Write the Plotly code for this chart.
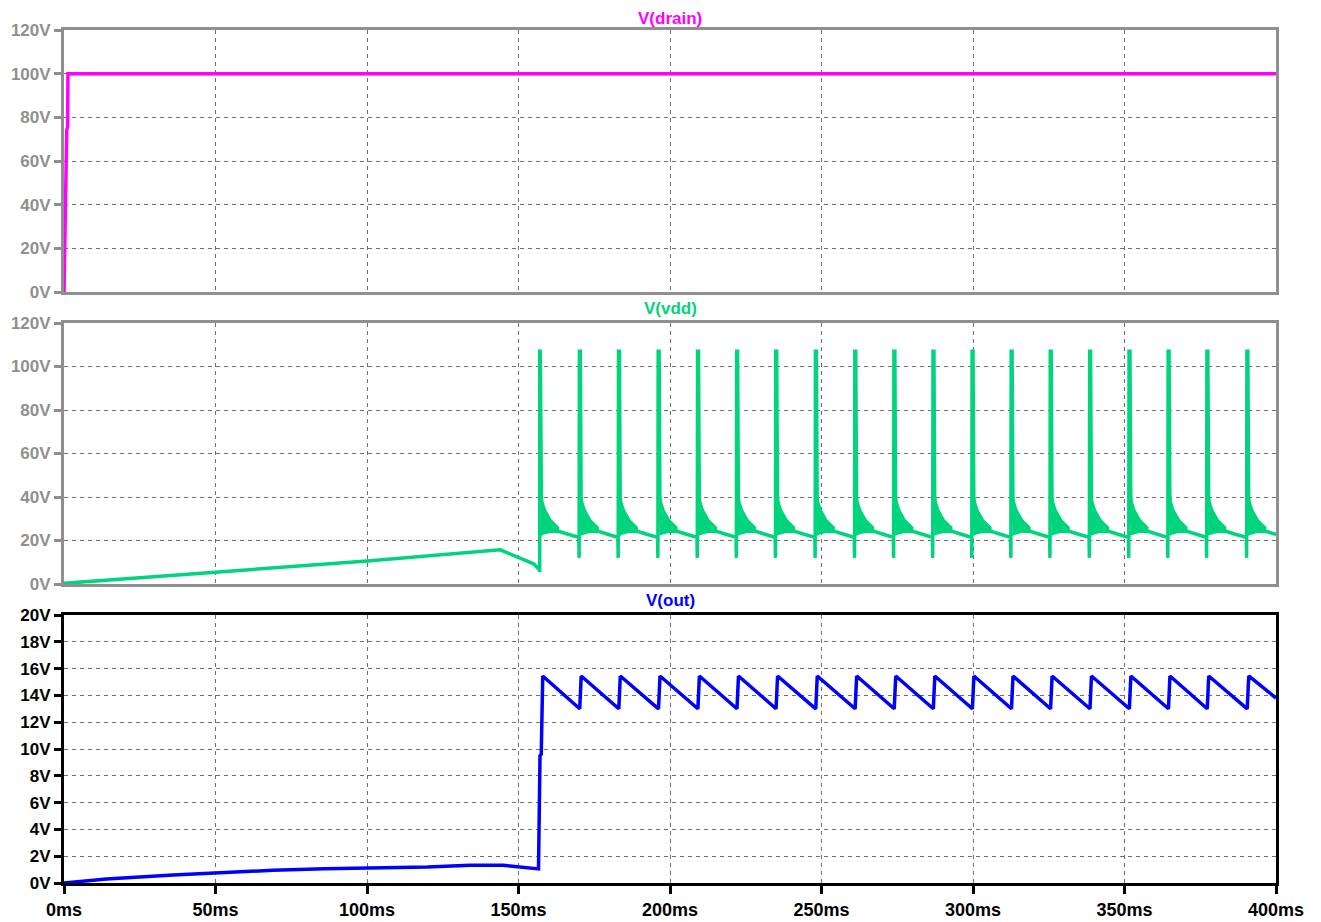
import plotly.graph_objects as go

# ---------------- data ----------------
# V(drain): fast rise to 100 V
drain_t = [0, 0.2, 0.5, 0.9, 1.2, 1.3, 400]
drain_v = [0, 24, 26, 74, 76, 100, 100]

# V(vdd): start-up ramp before switching begins
vdd_ramp_t = [0, 50, 100, 144, 150.5, 155, 156.9]
vdd_ramp_v = [0.3, 5.5, 10.6, 15.7, 11.8, 9.3, 6.5]

# switching events (ms)
spike_t = [157.1, 170.2, 183.1, 196.2, 209.2, 222.1, 235.0, 248.1, 261.1,
           274.0, 286.9, 299.8, 312.7, 325.6, 338.6, 351.6, 364.5, 377.3, 390.5]

# V(vdd) shape around each event (offset ms from the event, volts)
spike_off = [-0.3, -0.2, -0.1, 0.2, 0.35]
spike_val = [21.5, 12.0, 107.0, 107.0, 42.0]
first_spike_off = [-0.1, -0.1, 0.05, 0.2, 0.35]
first_spike_val = [5.5, 107.0, 107.0, 87.0, 42.0]
decay_off = [0.5, 1.5, 3.5, 6.0, 9.0, 12.5]
decay_val = [29.0, 27.5, 26.0, 24.3, 23.0, 21.6]
vdd_end = 23.0
# ringing band envelopes (offset ms, volts)
band_off = [0.3, 0.8, 1.7, 3.5, 6.0]
band_hi = [43.0, 38.0, 34.0, 29.5, 26.0]
band_lo = [22.5, 23.0, 23.5, 24.0, 23.8]

# V(out)
out_ramp_t = [0, 14, 36, 50, 69, 86, 100, 120, 134, 145, 148, 156.6]
out_ramp_v = [0, 0.3, 0.6, 0.77, 0.95, 1.07, 1.13, 1.2, 1.33, 1.33, 1.25, 1.05]
out_first_t = [157.1, 157.5, 158.0]
out_first_v = [9.5, 9.6, 15.45]
out_peak = 15.45
out_peak_off = 0.5
out_low = 13.0
out_end = 13.8

y_ticks_hv = [0, 20, 40, 60, 80, 100, 120]
y_ticks_out = [0, 2, 4, 6, 8, 10, 12, 14, 16, 18, 20]
x_ticks = [0, 50, 100, 150, 200, 250, 300, 350, 400]

# ---------------- build series ----------------
vdd_t = list(vdd_ramp_t)
vdd_v = list(vdd_ramp_v)
bx, by = [], []
for k, ts in enumerate(spike_t):
    nxt = spike_t[k + 1] if k + 1 < len(spike_t) else 400.0
    if k == 0:
        offs, vals = first_spike_off, first_spike_val
    else:
        offs, vals = spike_off, spike_val
    for o, v in zip(offs, vals):
        vdd_t.append(ts + o)
        vdd_v.append(v)
    for o, v in zip(decay_off, decay_val):
        if ts + o < nxt - 0.35:
            vdd_t.append(ts + o)
            vdd_v.append(v)
    # band polygon
    for o, v in zip(band_off, band_hi):
        bx.append(ts + o)
        by.append(v)
    for o, v in zip(reversed(band_off), reversed(band_lo)):
        bx.append(ts + o)
        by.append(v)
    bx.append(None)
    by.append(None)
vdd_t.append(400)
vdd_v.append(vdd_end)

out_t = list(out_ramp_t) + list(out_first_t)
out_v = list(out_ramp_v) + list(out_first_v)
for k, ts in enumerate(spike_t):
    if k > 0:
        out_t += [ts, ts + out_peak_off]
        out_v += [out_low, out_peak]
out_t.append(400)
out_v.append(out_end)

# ---------------- figure ----------------
MAG = "#ff00ff"
GRN = "#00d47c"
BLU = "#0000ff"
GRAY = "#8f8f8f"
FONT = "Liberation Sans, Arial, sans-serif"

fig = go.Figure()
fig.add_trace(go.Scatter(x=drain_t, y=drain_v, mode="lines",
                         line=dict(color=MAG, width=3.5), xaxis="x", yaxis="y",
                         hoverinfo="skip"))
fig.add_trace(go.Scatter(x=bx, y=by, mode="lines", fill="toself",
                         fillcolor=GRN, line=dict(color=GRN, width=2),
                         xaxis="x2", yaxis="y2", hoverinfo="skip"))
fig.add_trace(go.Scatter(x=vdd_t, y=vdd_v, mode="lines",
                         line=dict(color=GRN, width=3.5), xaxis="x2", yaxis="y2",
                         hoverinfo="skip"))
fig.add_trace(go.Scatter(x=out_t, y=out_v, mode="lines",
                         line=dict(color=BLU, width=3.5), xaxis="x3", yaxis="y3",
                         hoverinfo="skip"))

# page body has an 8px margin; figure occupies (8,8)-(1321,922)
OFF = 8
H_PLOT = 853.0
def dom(top_px, bot_px):
    return [(883 - bot_px) / H_PLOT, (883 - top_px) / H_PLOT]

grid = dict(showgrid=True, gridcolor="#707070", gridwidth=1, griddash="4px,4px")

def xax(color, show_labels, anchor):
    return dict(range=[0, 400], tickvals=x_ticks, ticktext=[f"{v}ms" for v in x_ticks],
                showticklabels=show_labels, ticks="outside" if show_labels else "",
                ticklen=8, tickwidth=3, tickcolor=color,
                showline=True, linecolor=color, linewidth=3, mirror=True,
                zeroline=False, anchor=anchor, domain=[0, 1], automargin=False,
                tickfont=dict(family=FONT, size=18, color=color, weight="bold"),
                **grid)

def yax(color, vals, rng, d, anchor):
    return dict(range=rng, tickvals=vals, ticktext=[f"{v}V" for v in vals],
                ticks="outside", ticklen=7, tickwidth=3, tickcolor=color,
                showline=True, linecolor=color, linewidth=3, mirror=True,
                zeroline=False, anchor=anchor, domain=d, automargin=False,
                tickfont=dict(family=FONT, size=17, color=color, weight="bold"),
                **grid)

fig.update_layout(
    width=1321 - OFF, height=922 - OFF, autosize=False,
    margin=dict(l=64 - OFF, r=45, t=30 - OFF, b=39),
    paper_bgcolor="white", plot_bgcolor="white",
    showlegend=False,
    xaxis=xax(GRAY, False, "y"),
    yaxis=yax(GRAY, y_ticks_hv, [0, 120], dom(30, 292), "x"),
    xaxis2=xax(GRAY, False, "y2"),
    yaxis2=yax(GRAY, y_ticks_hv, [0, 120], dom(323, 584), "x2"),
    xaxis3=xax("black", True, "y3"),
    yaxis3=yax("black", y_ticks_out, [0, 20], dom(615, 883), "x3"),
)

titles = [("V(drain)", MAG, 18), ("V(vdd)", GRN, 308), ("V(out)", BLU, 600)]
for txt, col, ypx in titles:
    fig.add_annotation(text=txt, xref="paper", yref="paper", x=0.5,
                       y=(883 - ypx) / H_PLOT, xanchor="center", yanchor="middle",
                       showarrow=False,
                       font=dict(family=FONT, size=17, color=col, weight="bold"))

fig.write_html("out.html")
